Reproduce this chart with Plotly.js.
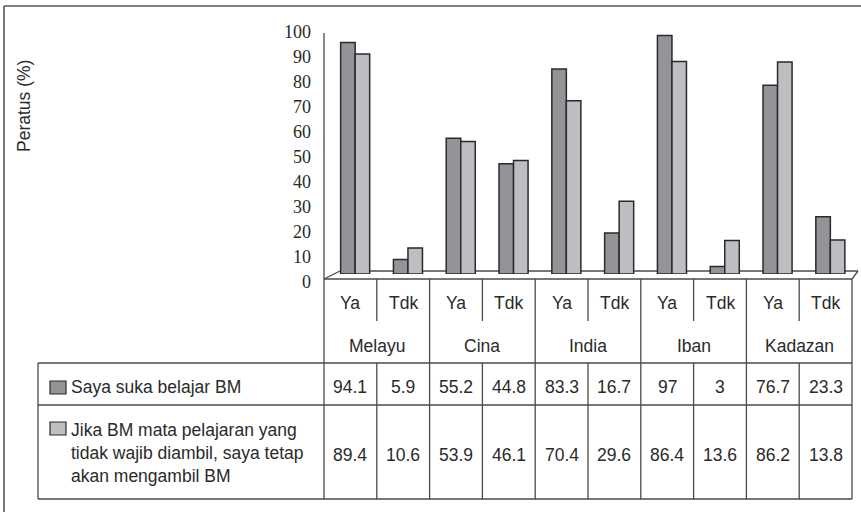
<!DOCTYPE html>
<html>
<head>
<meta charset="utf-8">
<script src="https://cdn.plot.ly/plotly-3.0.1.min.js"></script>
<style>html,body{margin:0;padding:0;background:#fff;}#chart{width:861px;height:512px;}</style>
</head>
<body>
<div id="chart"></div>
<script>
// ---- data ----
var groups = ['Melayu', 'Cina', 'India', 'Iban', 'Kadazan'];
var answers = ['Ya', 'Tdk'];
var sukaBM = [94.1, 5.9, 55.2, 44.8, 83.3, 16.7, 97, 3, 76.7, 23.3];
var ambilBM = [89.4, 10.6, 53.9, 46.1, 70.4, 29.6, 86.4, 13.6, 86.2, 13.8];
var seriesNames = ['Saya suka belajar BM',
  'Jika BM mata pelajaran yang<br>tidak wajib diambil, saya tetap<br>akan mengambil BM'];
var yTicks = [0, 10, 20, 30, 40, 50, 60, 70, 80, 90, 100];
var yTitle = 'Peratus (%)';

// ---- style ----
var W = 861, H = 512;
var L = 324, R = 852, T = 20, B = 290;
var darkFill = '#939498', lightFill = '#bdbec2', edge = '#2a2a2a';
var lineCol = '#4a4a4a';
var sans = 'Liberation Sans, Arial, sans-serif';
var fs = 17.5;
var txtCol = '#2a2a2a';

function px(x) { return (x - L) / (R - L); }
function py(y) { return (B - y) / (B - T); }

var cats = [];
groups.forEach(function (g) { answers.forEach(function (a) { cats.push(g + ' ' + a); }); });
var nCol = cats.length;

var traces = [
  {type: 'bar', x: cats, y: sukaBM, name: seriesNames[0], width: 0.275, offset: -0.185,
   marker: {color: darkFill, line: {color: edge, width: 1.5}}, hoverinfo: 'y'},
  {type: 'bar', x: cats, y: ambilBM, name: seriesNames[1], width: 0.275, offset: 0.09,
   marker: {color: lightFill, line: {color: edge, width: 1.5}}, hoverinfo: 'y'},
  {type: 'scatter', mode: 'lines', x: [cats[0]], y: [null], yaxis: 'y2', showlegend: false, hoverinfo: 'skip'}
];

var shapes = [];
function ln(x0, y0, x1, y1, opts) {
  var s = {type: 'line', xref: 'paper', yref: 'paper', x0: px(x0), y0: py(y0), x1: px(x1), y1: py(y1),
    line: {color: lineCol, width: 1.3}};
  if (opts) for (var k in opts) s[k] = opts[k];
  shapes.push(s);
}
// outer frame
ln(4, 6, 4, 520, {line: {color: '#555', width: 1.6}});
ln(4, 6, 870, 6, {line: {color: '#555', width: 1.6}});
// floor
ln(340, 271, 858, 271, {layer: 'below'});
ln(324, 279, 340, 271);
ln(852, 279, 858, 271);
ln(L, 279, R, 279);
// y axis line / table left border
ln(L, 33, L, 499);
// column boundaries
var legLeft = 38;
var rowTop = 363, rowMid = 405, rowBot = 499;
for (var k = 1; k <= nCol; k++) {
  var xb = L + (R - L) * k / nCol;
  if (k % answers.length === 0) {
    ln(xb, 279, xb, rowBot);
  } else {
    ln(xb, 279, xb, 321);
    ln(xb, rowTop, xb, rowBot);
  }
}
ln(legLeft, rowTop, R, rowTop);
ln(legLeft, rowMid, R, rowMid);
ln(legLeft, rowBot, R, rowBot);
ln(legLeft, rowTop, legLeft, rowBot);
// legend swatches
[[381, 394, darkFill], [422, 435, lightFill]].forEach(function (s) {
  shapes.push({type: 'rect', xref: 'paper', yref: 'paper', x0: px(50), x1: px(66), y0: py(s[1]), y1: py(s[0]),
    fillcolor: s[2], line: {color: edge, width: 1.2}});
});

var annotations = [];
function ann(o) {
  var a = {showarrow: false, font: {family: sans, size: fs, color: txtCol}, yref: 'paper'};
  for (var k in o) a[k] = o[k];
  annotations.push(a);
}
cats.forEach(function (c, i) {
  ann({xref: 'x', x: c, y: py(303), text: answers[i % answers.length], yanchor: 'middle'});
  ann({xref: 'x', x: c, y: py(387), text: String(sukaBM[i]), yanchor: 'middle'});
  ann({xref: 'x', x: c, y: py(455), text: String(ambilBM[i]), yanchor: 'middle'});
});
groups.forEach(function (g, gi) {
  ann({xref: 'x', x: gi * answers.length + (answers.length - 1) / 2, y: py(346), text: g, yanchor: 'middle'});
});
ann({xref: 'paper', x: px(69), xanchor: 'left', y: py(387), yanchor: 'middle', align: 'left', text: seriesNames[0]});
ann({xref: 'paper', x: px(69), xanchor: 'left', y: py(453), yanchor: 'middle', align: 'left', text: seriesNames[1]});
ann({xref: 'paper', x: px(24), y: py(106), text: yTitle, textangle: -90, xanchor: 'center', yanchor: 'middle'});

var layout = {
  width: W, height: H, autosize: false,
  margin: {l: L, r: W - R, t: T, b: H - B, pad: 0},
  paper_bgcolor: '#ffffff', plot_bgcolor: 'rgba(0,0,0,0)',
  showlegend: false,
  xaxis: {type: 'category', range: [-0.5, nCol - 0.5], showticklabels: false, showgrid: false,
    zeroline: false, showline: false, ticks: '', fixedrange: true, automargin: false},
  yaxis: {range: [0, 100], domain: [py(274), py(28)], showticklabels: false, showgrid: false,
    zeroline: false, showline: false, ticks: '', automargin: false},
  yaxis2: {range: [-2, 102], domain: [py(287), py(27)], anchor: 'x', side: 'left',
    tickmode: 'array', tickvals: yTicks, ticktext: yTicks.map(String),
    showgrid: false, zeroline: false, showline: false, ticks: '', ticklabelstandoff: 12,
    tickfont: {family: 'Liberation Serif, Times New Roman, serif', size: 18, color: txtCol}, automargin: false},
  shapes: shapes,
  annotations: annotations
};

Plotly.newPlot('chart', traces, layout, {displayModeBar: false, staticPlot: true});
</script>
</body>
</html>
